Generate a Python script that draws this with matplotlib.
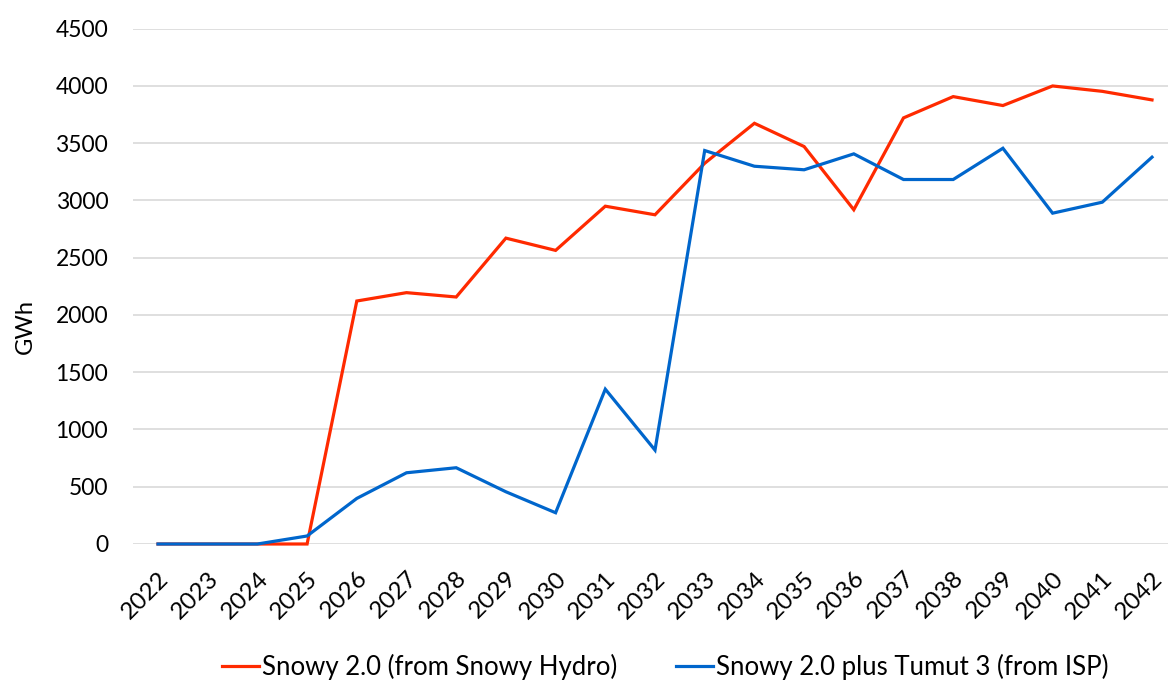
import matplotlib
matplotlib.use("Agg")
import matplotlib.pyplot as plt

years = [str(y) for y in range(2022, 2043)]
snowy_hydro = [0, 0, 0, 0, 2122, 2195, 2157, 2671, 2564, 2950, 2875,
               3325, 3674, 3471, 2919, 3721, 3907, 3829, 4000, 3953, 3878]
snowy_isp = [0, 0, 0, 70, 398, 622, 666, 456, 273, 1352, 820,
             3436, 3299, 3268, 3407, 3183, 3183, 3456, 2889, 2985, 3378]
yticks = [0, 500, 1000, 1500, 2000, 2500, 3000, 3500, 4000, 4500]

plt.rcParams['font.family'] = ['Lato', 'DejaVu Sans']

W, H = 1168, 682
fig = plt.figure(figsize=(W / 100, H / 100), dpi=100)
ax = fig.add_axes([133.15 / W, (H - 544) / H, (1176.85 - 133.15) / W, (544 - 28.7) / H])

x = list(range(len(years)))
red = '#FF2A00'
blue = '#0066CC'
ax.plot(x, snowy_hydro, color=red, lw=2.3, clip_on=False, zorder=3,
        label='Snowy 2.0 (from Snowy Hydro)', solid_joinstyle='miter')
ax.plot(x, snowy_isp, color=blue, lw=2.3, clip_on=False, zorder=4,
        label='Snowy 2.0 plus Tumut 3 (from ISP)', solid_joinstyle='miter')

ax.set_xlim(-0.5, len(years) - 0.5)
ax.set_ylim(0, 4500)
ax.set_yticks(yticks)
ax.set_yticklabels([str(v) for v in yticks], fontsize=16.5)
ax.set_xticks(x)
ax.set_xticklabels(years, fontsize=17.5, rotation=45, ha='right', va='top',
                   rotation_mode='anchor')
ax.tick_params(axis='both', length=0, colors='black')
ax.tick_params(axis='y', pad=18)
ax.tick_params(axis='x', pad=17)
ax.grid(axis='y', color='#D9D9D9', lw=1.2)
ax.set_axisbelow(True)
for s in ax.spines.values():
    s.set_visible(False)

fig.text(25 / W, 1 - 327 / H, 'GWh', rotation=90, fontsize=17,
         ha='center', va='center')

fig.legend(loc='center', bbox_to_anchor=(665 / W, 1 - 667 / H), ncol=2,
           frameon=False, fontsize=18.5, handlelength=1.45, handletextpad=0.1,
           columnspacing=2.3, borderaxespad=0)

fig.savefig('out.png', dpi=100, facecolor='white')
